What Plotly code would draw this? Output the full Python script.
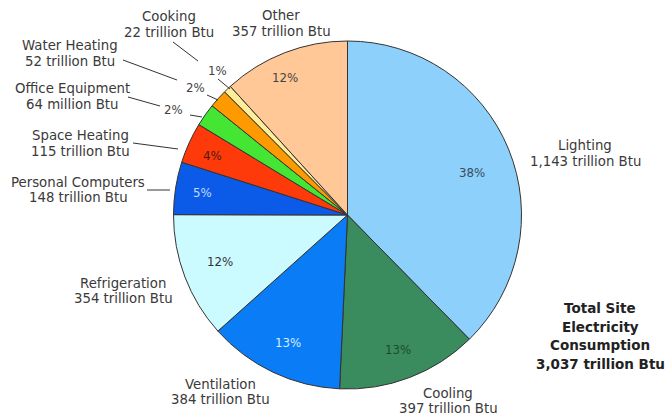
import plotly.graph_objects as go

W, H = 669, 420

categories = ["Lighting", "Cooling", "Ventilation", "Refrigeration", "Personal Computers",
              "Space Heating", "Office Equipment", "Water Heating", "Cooking", "Other"]
values = [1143, 397, 384, 354, 148, 115, 64, 52, 22, 357]
value_labels = ["1,143 trillion Btu", "397 trillion Btu", "384 trillion Btu", "354 trillion Btu",
                "148 trillion Btu", "115 trillion Btu", "64 million Btu", "52 trillion Btu",
                "22 trillion Btu", "357 trillion Btu"]
percent_labels = ["38%", "13%", "13%", "12%", "5%", "4%", "2%", "2%", "1%", "12%"]
colors = ["#8ed0fc", "#3a8c5e", "#0a7cf5", "#ccfbff", "#0b5be8",
          "#ff3a0a", "#44e633", "#ff9900", "#ffee99", "#ffc896"]
total_label = ["Total Site", "Electricity", "Consumption", "3,037 trillion Btu"]

# layout positions (pixels)
cx, cy, r = 347.5, 215, 174
cat_pos = [(585, 153.5), (448, 401), (220, 392), (123, 291), (78, 190),
           (80, 143.5), (72, 96.5), (70, 53.5), (169, 24.5), (281, 23.5)]
pct_pos = [(472, 173), (398, 350), (288, 343), (220, 262), (202, 193),
           (212, 156), (173, 110), (195, 88), (217, 71), (285, 78)]
pct_colors = ["#3a4a5a", "#1f4a30", "#d8ecff", "#333333", "#c0dcff",
              "#4a1a10", "#444444", "#444444", "#444444", "#444444"]
leaders = [((173, 42), (198, 61)), ((218, 79), (230, 89)),
           ((123, 60), (177, 80)), ((207, 95), (218, 100)),
           ((128, 97), (160, 106)), ((190, 115), (202, 117)),
           ((133, 143), (178, 149)), ((147, 190), (170, 190))]


def px(x):
    return x / W


def py(y):
    return 1 - y / H


fig = go.Figure(go.Pie(
    values=values, labels=categories, sort=False, direction="clockwise", rotation=0,
    marker=dict(colors=colors, line=dict(color="#333333", width=1)),
    textinfo="none", hoverinfo="label+value+percent", showlegend=False,
    domain=dict(x=[px(cx - r), px(cx + r)], y=[py(cy + r), py(cy - r)]),
))

annotations = []
font = "DejaVu Sans, Verdana, sans-serif"
for name, vl, (x, y) in zip(categories, value_labels, cat_pos):
    for j, t in enumerate([name, vl]):
        annotations.append(dict(x=px(x), y=py(y - 7.8 + 15.6 * j), xref="paper", yref="paper",
                                text=t, showarrow=False, align="center",
                                xanchor="center", yanchor="middle",
                                font=dict(family=font, size=13.3, color="#3a3a3a")))
for t, (x, y), c in zip(percent_labels, pct_pos, pct_colors):
    annotations.append(dict(x=px(x), y=py(y), xref="paper", yref="paper", text=t,
                            showarrow=False, xanchor="center", yanchor="middle",
                            font=dict(family=font, size=11.8, color=c)))
for i, line in enumerate(total_label):
    annotations.append(dict(x=px(600), y=py(308 + i * 18.7), xref="paper", yref="paper",
                            text=f"<b>{line}</b>", showarrow=False, xanchor="center",
                            yanchor="middle", font=dict(family=font, size=13.5, color="#222222")))

shapes = [dict(type="line", xref="paper", yref="paper", x0=px(a[0]), y0=py(a[1]),
               x1=px(b[0]), y1=py(b[1]), line=dict(color="#333333", width=1))
          for a, b in leaders]

fig.update_layout(width=W, height=H, margin=dict(l=0, r=0, t=0, b=0),
                  paper_bgcolor="white", plot_bgcolor="white",
                  annotations=annotations, shapes=shapes)

fig.write_html("out.html", config={"displayModeBar": False},
               post_script="document.body.style.margin='0';document.body.style.overflow='hidden';")
